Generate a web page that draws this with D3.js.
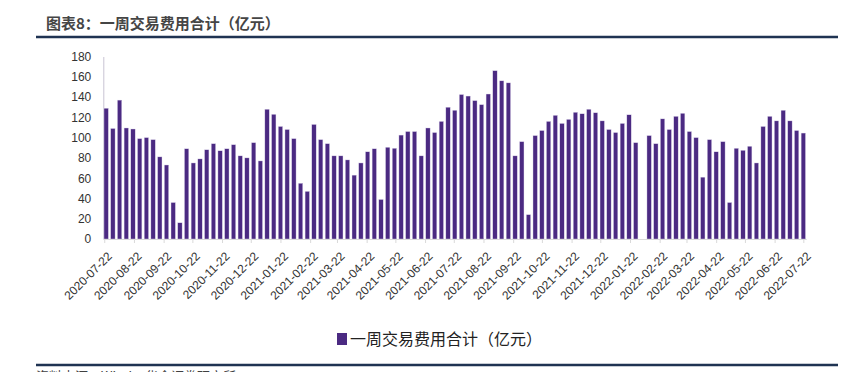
<!DOCTYPE html>
<html>
<head>
<meta charset="utf-8">
<script src="https://cdn.jsdelivr.net/npm/d3@7"></script>
<style>
  body { margin: 0; background: #fff; }
  svg { display: block; font-family: "Liberation Sans", Arial, sans-serif; }
</style>
</head>
<body>
<div id="chart"></div>
<script>
// Weekly dates (Fridays)
const weeks = [
  "2020-07-24","2020-07-31","2020-08-07","2020-08-14","2020-08-21","2020-08-28","2020-09-04","2020-09-11",
  "2020-09-18","2020-09-25","2020-10-02","2020-10-09","2020-10-16","2020-10-23","2020-10-30","2020-11-06",
  "2020-11-13","2020-11-20","2020-11-27","2020-12-04","2020-12-11","2020-12-18","2020-12-25","2021-01-01",
  "2021-01-08","2021-01-15","2021-01-22","2021-01-29","2021-02-05","2021-02-12","2021-02-19","2021-02-26",
  "2021-03-05","2021-03-12","2021-03-19","2021-03-26","2021-04-02","2021-04-09","2021-04-16","2021-04-23",
  "2021-04-30","2021-05-07","2021-05-14","2021-05-21","2021-05-28","2021-06-04","2021-06-11","2021-06-18",
  "2021-06-25","2021-07-02","2021-07-09","2021-07-16","2021-07-23","2021-07-30","2021-08-06","2021-08-13",
  "2021-08-20","2021-08-27","2021-09-03","2021-09-10","2021-09-17","2021-09-24","2021-10-01","2021-10-08",
  "2021-10-15","2021-10-22","2021-10-29","2021-11-05","2021-11-12","2021-11-19","2021-11-26","2021-12-03",
  "2021-12-10","2021-12-17","2021-12-24","2021-12-31","2022-01-07","2022-01-14","2022-01-21","2022-01-28",
  "2022-02-04","2022-02-11","2022-02-18","2022-02-25","2022-03-04","2022-03-11","2022-03-18","2022-03-25",
  "2022-04-01","2022-04-08","2022-04-15","2022-04-22","2022-04-29","2022-05-06","2022-05-13","2022-05-20",
  "2022-05-27","2022-06-03","2022-06-10","2022-06-17","2022-06-24","2022-07-01","2022-07-08","2022-07-15",
  "2022-07-22"
];

// 一周交易费用合计（亿元）
const fees = [
  129, 109, 137, 109.5, 108.5, 99, 100, 98,
  81, 73, 36, 16, 89, 75, 79, 88,
  94, 87, 89, 93, 82, 80, 95, 77,
  128, 123, 111, 108, 99, 55, 47, 113,
  98, 94, 82, 82, 78, 63, 75, 86,
  89, 39, 90.5, 89.5, 102.5, 106, 106, 82,
  109.5, 105, 116, 130, 127, 142.5, 141, 136.5,
  132.5, 143, 166, 156, 154, 82, 96, 24,
  102, 107, 116, 122, 114, 118, 125, 123.5,
  128, 124.5, 116.5, 108, 105, 114, 122.5, 95,
  null, 102, 94, 118.5, 108, 121, 124, 106,
  100, 61, 98, 86, 96, 36, 89.5, 87.5,
  91.5, 75, 111, 121, 116.5, 127, 116.5, 107,
  104.5
];

const tickDates = [
  "2020-07-22","2020-08-22","2020-09-22","2020-10-22","2020-11-22","2020-12-22",
  "2021-01-22","2021-02-22","2021-03-22","2021-04-22","2021-05-22","2021-06-22",
  "2021-07-22","2021-08-22","2021-09-22","2021-10-22","2021-11-22","2021-12-22",
  "2022-01-22","2022-02-22","2022-03-22","2022-04-22","2022-05-22","2022-06-22",
  "2022-07-22"
];

const yTicks = [0, 20, 40, 60, 80, 100, 120, 140, 160, 180];

const width = 853;
const height = 372;
const barColor = "#4b2a82";
const parse = d3.utcParse("%Y-%m-%d");

const svg = d3.select("#chart")
    .append("svg")
    .attr("width", width)
    .attr("height", height);

// Title + rules
svg.append("text")
    .attr("x", 46)
    .attr("y", 29)
    .style("font-family", "'Noto Sans CJK SC', sans-serif")
    .style("font-size", "15px")
    .style("font-weight", "bold")
    .style("fill", "#454545")
    .text("图表8：一周交易费用合计（亿元）");

svg.append("line")
    .attr("x1", 36).attr("x2", 838)
    .attr("y1", 37).attr("y2", 37)
    .style("stroke", "#1f3352")
    .style("stroke-width", 2.5);

svg.append("line")
    .attr("x1", 36).attr("x2", 838)
    .attr("y1", 365).attr("y2", 365)
    .style("stroke", "#1f3352")
    .style("stroke-width", 2.5);

// source line, cut by the bottom edge as in the original
svg.append("text")
    .attr("x", 36)
    .attr("y", 381)
    .style("font-family", "'Noto Sans CJK SC', sans-serif")
    .style("font-size", "13px")
    .style("fill", "#404040")
    .text("资料来源：Wind，华金证券研究所");

// Scales
const x = d3.scaleUtc()
    .domain([parse("2020-07-21"), parse("2022-07-25")])
    .range([103.3, 806.2]);

const y = d3.scaleLinear()
    .domain([0, 180])
    .range([239, 56.5]);

// Y axis
const yAxis = svg.append("g")
    .attr("transform", `translate(${x.range()[0]},0)`)
    .call(d3.axisLeft(y).tickValues(yTicks).tickSize(0).tickPadding(12));
yAxis.select(".domain").style("stroke", "#c8c3d3");
yAxis.selectAll("text")
    .style("font-size", "12px")
    .style("fill", "#333");

// Bars
const barW = 4.4;
svg.append("g")
    .selectAll("rect")
    .data(weeks.map((d, i) => ({ date: parse(d), value: fees[i] })).filter(d => d.value != null))
    .enter().append("rect")
    .attr("x", d => x(d.date) - barW / 2)
    .attr("y", d => y(d.value))
    .attr("width", barW)
    .attr("height", d => y(0) - y(d.value))
    .style("fill", barColor)
    .style("stroke", "#e4def0")
    .style("stroke-width", 0.4);

// X axis
const xAxis = svg.append("g")
    .attr("transform", `translate(0,${y(0)})`)
    .call(d3.axisBottom(x)
        .tickValues(tickDates.map(parse))
        .tickFormat(d3.utcFormat("%Y-%m-%d"))
        .tickSize(4)
        .tickSizeOuter(0));
xAxis.select(".domain").style("stroke", "#d9d9d9");
xAxis.selectAll(".tick line").style("stroke", "#d9d9d9");
xAxis.selectAll("text")
    .attr("text-anchor", "end")
    .attr("dy", "0.35em")
    .attr("transform", "translate(5,15) rotate(-45)")
    .attr("y", 0)
    .style("font-size", "12px")
    .style("fill", "#333");

// Legend
const legend = svg.append("g").attr("transform", "translate(337,333)");
legend.append("rect")
    .attr("width", 10)
    .attr("height", 12)
    .style("fill", barColor);
legend.append("text")
    .attr("x", 13)
    .attr("y", 12)
    .style("font-family", "'Noto Sans CJK SC', sans-serif")
    .style("font-size", "16px")
    .style("fill", "#222")
    .text("一周交易费用合计（亿元）");
</script>
</body>
</html>
